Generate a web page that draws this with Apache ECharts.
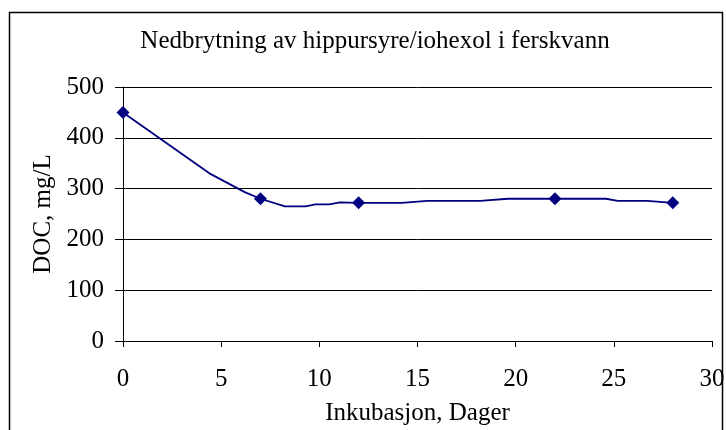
<!DOCTYPE html>
<html>
<head>
<meta charset="utf-8">
<script src="https://cdn.jsdelivr.net/npm/echarts@6/dist/echarts.min.js"></script>
<style>
html,body{margin:0;padding:0;background:#fff;}
#c{width:726px;height:430px;}
</style>
</head>
<body>
<div id="c"></div>
<script>
// Measured DOC values (diamond markers)
const dayValues = [0, 7, 12, 22, 28];
const docValues = [450, 280, 272, 280, 272];
// Points
const curveDays = [0, 4.4, 6.2, 7, 8.25, 9.3, 9.8, 10.5, 11.05, 12, 14.2, 15.5, 18.2, 19.6, 22, 24.6, 25.2, 26.7, 28];
const curveDoc  = [450, 330, 293, 280, 265, 265, 269, 269, 273, 272, 272, 276, 276, 280, 280, 280, 276, 276, 272];
const yTicks = [0, 100, 200, 300, 400, 500];
const xTicks = [0, 5, 10, 15, 20, 25, 30];

const titleText = 'Nedbrytning av hippursyre/iohexol i ferskvann';
const xName = 'Inkubasjon, Dager';
const yName = 'DOC, mg/L';

const font = 'Liberation Serif, Times New Roman, serif';
const fs = 25;
const chart = echarts.init(document.getElementById('c'), null, {renderer: 'canvas'});
chart.setOption({
  backgroundColor: '#fff',
  animation: false,
  title: {
    text: titleText, left: 375, top: 29, textAlign: 'center', padding: 0,
    textStyle: {fontFamily: font, fontSize: fs, fontWeight: 'normal', color: '#000'}
  },
  graphic: [{
    type: 'rect', shape: {x: 9.5, y: 12.5, width: 713, height: 440},
    style: {fill: 'none', stroke: '#000', lineWidth: 1.5}, silent: true
  }],
  grid: {left: 123, right: 14, top: 87, bottom: 89, outerBoundsMode: 'none', containLabel: false},
  xAxis: {
    type: 'value', min: xTicks[0], max: xTicks[xTicks.length - 1], interval: 5,
    name: xName, nameLocation: 'middle', nameGap: 60,
    nameTextStyle: {fontFamily: font, fontSize: fs, color: '#000'},
    axisLine: {show: true, onZero: false, lineStyle: {color: '#000', width: 1}},
    axisTick: {show: true, length: 6, lineStyle: {color: '#000'}},
    axisLabel: {fontFamily: font, fontSize: fs, color: '#000', margin: 26},
    splitLine: {show: false}
  },
  yAxis: {
    type: 'value', min: yTicks[0], max: yTicks[yTicks.length - 1], interval: 100,
    name: yName, nameLocation: 'middle', nameGap: 66, nameRotate: 90,
    nameTextStyle: {fontFamily: font, fontSize: fs, color: '#000'},
    axisLine: {show: true, lineStyle: {color: '#000', width: 1}},
    axisTick: {show: true, length: 8, lineStyle: {color: '#000'}},
    axisLabel: {fontFamily: font, fontSize: fs, color: '#000', margin: 19},
    splitLine: {show: true, lineStyle: {color: '#000', width: 1}}
  },
  series: [{
    type: 'line',
    data: curveDays.map((d, i) => [d, curveDoc[i]]),
    showSymbol: false, symbol: 'none',
    lineStyle: {color: '#000080', width: 1.8},
    z: 2
  }, {
    type: 'scatter',
    data: dayValues.map((d, i) => [d, docValues[i]]),
    symbol: 'diamond', symbolSize: 13,
    itemStyle: {color: '#000080', opacity: 1},
    z: 3
  }]
});
</script>
</body>
</html>
